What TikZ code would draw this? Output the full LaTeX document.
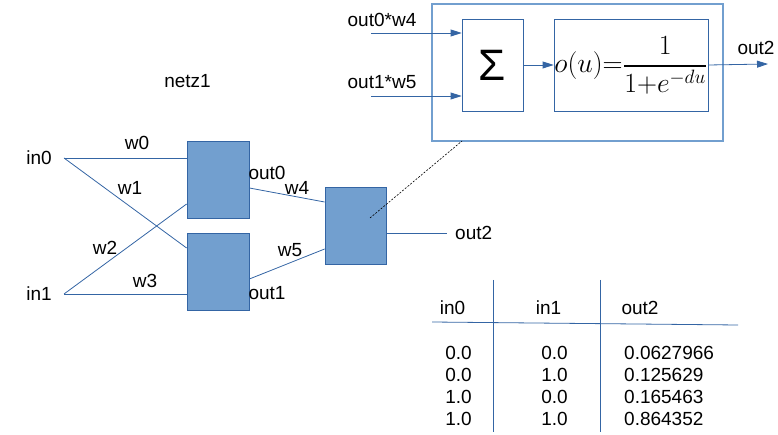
\documentclass[tikz,border=0pt]{standalone}
\usepackage{amsmath}
\usepackage{graphicx}
\usepackage{fontspec}
\setmainfont{Liberation Sans}
\usepackage{tikz}
\usetikzlibrary{arrows.meta,positioning}
\usepackage{xcolor}
\definecolor{lineblue}{HTML}{3465A4}
\definecolor{fillblue}{HTML}{729FCF}

\begin{document}
\begin{tikzpicture}[x=1pt, y=-1pt, >={Triangle[length=11pt,width=7pt]}, font=\fontsize{19}{22}\selectfont]
    % Define style for the nodes
    \tikzstyle{neuron node} = [rectangle, draw=lineblue, fill=fillblue, line width=0.8pt, minimum width=62pt, minimum height=77pt, inner sep=0pt]
    \tikzstyle{part node} = [rectangle, draw=lineblue, line width=0.8pt, minimum height=92pt, inner sep=0pt]
    \tikzstyle{wire} = [draw=lineblue, line width=0.8pt]
    \tikzstyle{label node} = [inner sep=0pt]

    \useasboundingbox (0,0) rectangle (778,435);

    % Nodes
    \node[neuron node] (hidA) at (218,179.5) {};
    \node[neuron node] (hidB) at (218,271.5) {};
    \node[neuron node, minimum width=61pt] (outC) at (355.5,225.5) {};

    \coordinate (x0) at (64,158);
    \coordinate (x1) at (64,294);
    \coordinate (y2) at (447,233);
    \node[label node, left=12pt of x0] (in0) {in0};
    \node[label node, left=12pt of x1] (in1) {in1};
    \node[label node, right=8pt of y2] (out2) {out2};
    \node[label node] (netz) at (187.5,81) {netz1};

    % Wires with labels
    \draw[wire] (x0) -- (hidA.west |- x0);
    \draw[wire] (x0) -- ([yshift=23.5pt]hidB.west);
    \draw[wire] (x1) -- ([yshift=-24.5pt]hidA.west);
    \draw[wire] (x1) -- (hidB.west |- x1);
    \draw[wire] ([yshift=-8.5pt]hidA.east) -- ([yshift=23.5pt]outC.west);
    \draw[wire] ([yshift=-7.5pt]hidB.east) -- ([yshift=-23.5pt]outC.west);
    \draw[wire] (outC.east |- y2) -- (y2);

    \node[label node] (lw0) at (137,143) {w0};
    \node[label node] (lw1) at (130,188) {w1};
    \node[label node] (lw2) at (105,248) {w2};
    \node[label node] (lw3) at (145,281) {w3};
    \node[label node] (lw4) at (297,188) {w4};
    \node[label node] (lw5) at (290,250) {w5};
    \node[label node] (lout0) at (267,173) {out0};
    \node[label node] (lout1) at (267,293) {out1};

    % Zoomed neuron
    \node[rectangle, draw=fillblue, line width=1.3pt, minimum width=291pt, minimum height=137pt] (cell) at (577.5,72.5) {};
    \node[part node, minimum width=61pt, font=\fontsize{44}{50}\selectfont] (sum) at (492.5,65) {Σ\hspace{14pt}};
    \node[part node, minimum width=154pt] (act) at (631,65) {\fontsize{20.74}{24}\selectfont\scalebox{1.34}{$o(u){=}\dfrac{1}{1{+}e^{-du}}$}};

    \coordinate (s0) at (371,33);
    \coordinate (s1) at (371,96);
    \coordinate (y2z) at (768,64);
    \node[label node] (ls0) at (382,20) {out0*w4};
    \node[label node] (ls1) at (382,82) {out1*w5};
    \node[label node, above=9pt of y2z, xshift=-12pt] (lout2) {out2};

    \draw[wire, ->] (s0) -- (sum.west |- s0);
    \draw[wire, ->] (s1) -- (sum.west |- s1);
    \draw[wire, ->] (sum.east |- act.west) -- (act.west);
    \draw[wire, ->] (act.east) -- (y2z);

    % Zoom line
    \coordinate (zA) at (370,218);
    \coordinate (zB) at (462,141);
    \draw[dash pattern=on 2pt off 1.5pt, line width=0.6pt] (zA) -- (zB);

    % Truth table
    \draw[wire] (432,322) -- (738,325);
    \draw[wire] (493,280) -- (493,432);
    \draw[wire] (600,280) -- (600,432);
    \node[label node] (hin0) at (452.5,308) {in0};
    \node[label node] (hin1) at (548.5,308) {in1};
    \node[label node] (hout2) at (640,308) {out2};
    \foreach \a/\b/\c [count=\i] in {0.0/0.0/0.0627966, 0.0/1.0/0.125629, 1.0/0.0/0.165463, 1.0/1.0/0.864352} {
        \node[label node] (ra\i) at (458.5,331.5+21.8*\i) {\a};
        \node[label node] (rb\i) at (554.5,331.5+21.8*\i) {\b};
        \node[label node, anchor=west] (rc\i) at (624,331.5+21.8*\i) {\c};
    }
\end{tikzpicture}
\end{document}
